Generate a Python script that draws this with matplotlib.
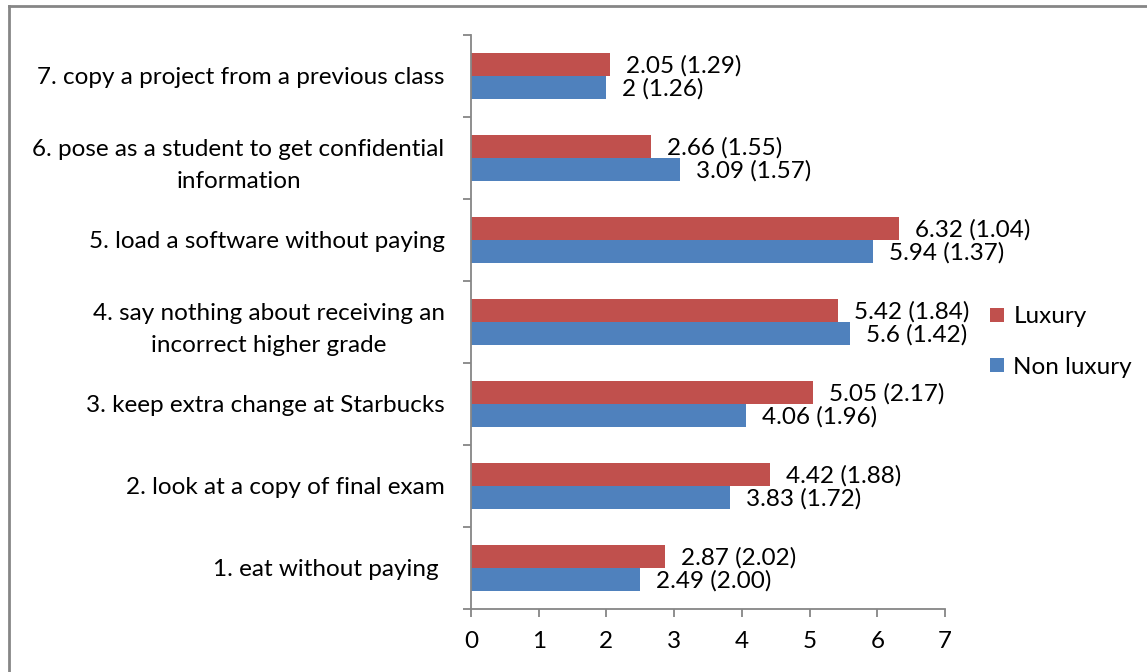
import numpy as np
import matplotlib
matplotlib.use("Agg")
import matplotlib.pyplot as plt
from matplotlib.lines import Line2D

plt.rcParams["font.family"] = ["Lato", "DejaVu Sans"]

CATEGORIES = [
    "1. eat without paying ",
    "2. look at a copy of final exam",
    "3. keep extra change at Starbucks",
    "4. say nothing about receiving an\nincorrect higher grade",
    "5. load a software without paying",
    "6. pose as a student to get confidential\ninformation",
    "7. copy a project from a previous class",
]
LUX_MEAN = [2.87, 4.42, 5.05, 5.42, 6.32, 2.66, 2.05]
LUX_SD = [2.02, 1.88, 2.17, 1.84, 1.04, 1.55, 1.29]
NON_MEAN = [2.49, 3.83, 4.06, 5.6, 5.94, 3.09, 2.0]
NON_SD = [2.00, 1.72, 1.96, 1.42, 1.37, 1.57, 1.26]

RED = "#C0504D"
BLUE = "#4F81BD"
GREY = "#868686"
FS = 17.5

fig = plt.figure(figsize=(11.47, 6.72), dpi=100)
ax = fig.add_axes([0.4106, 0.0938, 0.4133, 0.8542])

y = np.arange(len(CATEGORIES))
h = 0.28
bl = ax.barh(y + h / 2, LUX_MEAN, height=h, color=RED, label="Luxury")
bn = ax.barh(y - h / 2, NON_MEAN, height=h, color=BLUE, label="Non luxury")

for bars, means, sds in [(bl, LUX_MEAN, LUX_SD), (bn, NON_MEAN, NON_SD)]:
    for bar, m, s in zip(bars, means, sds):
        ax.annotate(f"{m:g} ({s:.2f})",
                    (bar.get_width(), bar.get_y() + bar.get_height() / 2),
                    xytext=(11.5, -1), textcoords="offset points",
                    ha="left", va="center", fontsize=FS)

ax.set_xlim(0, 7)
ax.set_ylim(-0.5, len(CATEGORIES) - 0.5)
ax.set_xticks(range(8))
ax.tick_params(axis="x", labelsize=FS, length=6, color=GREY, width=1.3, pad=10)

# tick marks between groups, labels at group centres
ax.set_yticks(np.arange(-0.5, len(CATEGORIES)), labels=[])
ax.set_yticks(y, labels=CATEGORIES, minor=True)
ax.tick_params(axis="y", which="major", length=6, color=GREY, width=1.3)
ax.tick_params(axis="y", which="minor", length=0, labelsize=FS, pad=19)
for t in ax.get_yticklabels(minor=True):
    t.set_multialignment("center")
    t.set_linespacing(1.65)

for side in ["top", "right"]:
    ax.spines[side].set_visible(False)
for side in ["left", "bottom"]:
    ax.spines[side].set_color(GREY)
    ax.spines[side].set_linewidth(1.3)

fig.legend(handles=[bl, bn], labels=["Luxury", "Non luxury"],
           loc="center left", bbox_to_anchor=(0.855, 0.491),
           frameon=False, fontsize=FS, handlelength=0.55, handleheight=0.55,
           handletextpad=0.4, labelspacing=1.2, borderaxespad=0)

# chart area border (left and top edges)
fig.add_artist(Line2D([0.0076, 0.0076], [0, 0.9918], transform=fig.transFigure,
                      color=GREY, linewidth=2))
fig.add_artist(Line2D([0.0076, 1.0], [0.9918, 0.9918], transform=fig.transFigure,
                      color=GREY, linewidth=2))

fig.savefig("out.png", dpi=100)
